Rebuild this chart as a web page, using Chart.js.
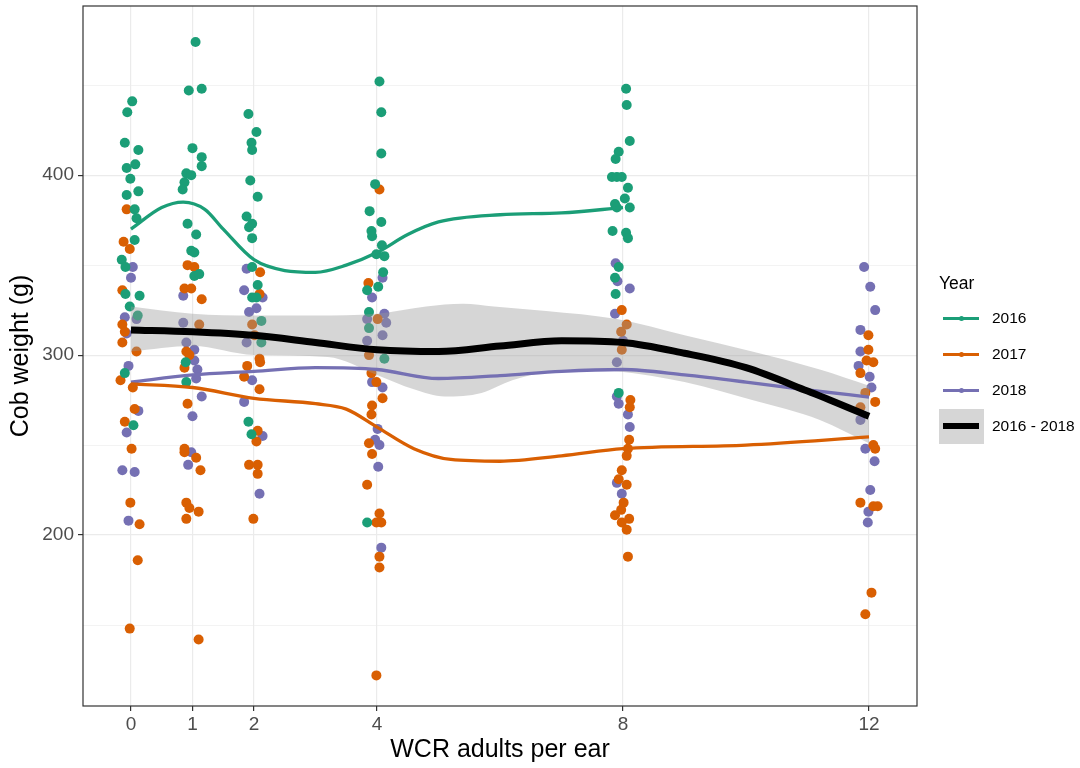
<!DOCTYPE html>
<html><head><meta charset="utf-8">
<script src="https://cdn.jsdelivr.net/npm/chart.js@4/dist/chart.umd.min.js"></script>
<style>
html,body{margin:0;padding:0;background:#fff;}
#wrap{position:relative;width:1080px;height:768px;overflow:hidden;}
#c{position:absolute;left:0;top:0;}
#legend{position:absolute;left:939px;top:271px;font-family:"Liberation Sans",Arial,sans-serif;color:#000;}
#legend .ttl{font-size:17.5px;height:30px;line-height:24px;}
#legend .row{position:relative;height:36px;width:140px;}
#legend .key{position:absolute;left:0;top:0;width:45px;height:35px;}
#legend .ln{position:absolute;left:4px;width:36px;top:16px;height:3px;}
#legend .dot{position:absolute;left:20px;top:15px;width:5px;height:5px;border-radius:50%;}
#legend .lab{position:absolute;left:53px;top:8px;font-size:15.5px;}
</style></head>
<body><div id="wrap"><canvas id="c" width="1080" height="768"></canvas><div id="legend"></div></div>
<script>
// ---- data ----
const xBreaks = [0, 1, 2, 4, 8, 12];
const yMajor = [200, 300, 400];
const yMinor = [150, 250, 350, 450];
const years = ['2016', '2017', '2018'];
const combinedLabel = '2016 - 2018';

const pts2016 = [
 [0.02,441],[-0.06,435],[-0.10,418],[0.12,414],[-0.07,404],[0.07,406],[-0.01,398],[-0.07,389],[0.12,391],[0.06,381],[0.09,376],[0.06,364],[-0.15,353],[-0.09,349],[-0.09,334],[0.14,333],[-0.02,327],[0.11,322],[-0.10,290],[0.04,261],
 [1.05,474],[0.94,447],[1.15,448],[1.00,415],[1.15,410],[1.15,405],[0.90,401],[0.98,400],[0.87,396],[0.84,392],[0.92,373],[1.06,367],[0.98,358],[1.03,357],[1.03,344],[1.11,345],[0.89,296],[0.90,285],
 [1.91,434],[2.04,424],[1.96,418],[1.97,414],[1.94,397],[2.06,388],[1.88,377],[1.97,373],[1.92,371],[1.97,365],[1.97,349],[2.06,339],[2.04,332],[1.97,332],[2.12,319],[2.12,307],[1.91,263],[1.96,256],
 [4.04,452],[4.07,435],[4.07,412],[3.97,395],[3.88,380],[4.07,374],[3.91,369],[3.92,366],[4.08,361],[3.99,356],[4.12,355],[4.10,346],[4.02,338],[3.84,336],[3.87,324],[3.87,315],[4.12,298],[3.84,207],
 [8.05,448],[8.06,439],[8.11,419],[7.93,413],[7.88,409],[7.82,399],[7.90,399],[7.98,399],[8.08,393],[8.03,387],[7.87,384],[7.90,382],[8.11,382],[7.83,369],[8.05,368],[8.08,365],[7.93,349],[7.87,343],[7.88,334],[7.93,279]
];
const pts2017 = [
 [-0.07,381],[-0.12,363],[-0.02,359],[-0.14,336],[-0.14,317],[-0.10,313],[-0.14,307],[0.09,302],[-0.17,286],[0.03,282],[0.06,270],[-0.10,263],[0.01,248],[-0.01,218],[0.14,206],[0.11,186],[-0.02,148],
 [0.92,350],[1.03,349],[0.87,337],[0.98,337],[1.15,331],[1.11,317],[0.90,302],[0.95,300],[0.87,293],[0.92,273],[0.87,248],[0.87,246],[1.06,243],[1.13,236],[0.90,218],[0.95,215],[1.10,213],[0.90,209],[1.10,142],
 [2.10,346],[2.09,334],[1.97,317],[2.01,311],[2.09,298],[1.89,294],[2.10,296],[1.84,288],[2.09,281],[2.06,258],[2.04,252],[1.92,239],[2.06,239],[2.06,234],[1.99,209],
 [4.04,392],[3.86,340],[4.01,320],[3.87,300],[3.91,290],[3.99,285],[4.09,276],[3.92,272],[3.91,267],[3.87,251],[3.92,245],[3.84,228],[4.04,212],[4.07,207],[3.99,207],[4.04,188],[4.04,182],[3.99,122],
 [7.98,325],[8.06,317],[7.97,313],[7.98,303],[8.12,275],[8.11,271],[8.10,253],[8.08,248],[8.06,244],[7.98,236],[7.93,231],[8.06,228],[8.01,218],[7.97,214],[7.87,211],[8.10,209],[7.98,207],[8.06,203],[8.08,188],
 [11.99,311],[11.99,303],[11.96,297],[12.07,296],[11.86,290],[11.94,279],[12.10,274],[11.86,271],[12.07,250],[12.10,248],[11.86,218],[12.07,216],[12.14,216],[12.04,168],[11.94,156]
];
const pts2018 = [
 [0.03,349],[0.00,343],[-0.10,321],[0.09,320],[-0.07,312],[-0.04,294],[0.12,269],[-0.07,257],[-0.14,236],[0.06,235],[-0.04,208],
 [0.85,333],[0.85,318],[0.90,307],[1.03,303],[1.03,297],[1.08,292],[1.06,287],[1.15,277],[1.00,266],[0.98,246],[0.93,239],
 [1.88,348],[1.84,336],[2.14,332],[2.04,326],[1.92,324],[1.88,307],[1.97,286],[1.84,274],[2.14,255],[2.09,223],
 [4.09,343],[3.92,332],[4.12,323],[3.84,320],[4.15,318],[4.09,311],[3.84,308],[3.92,285],[4.09,282],[4.01,259],[3.97,253],[4.04,250],[4.02,238],[4.07,193],
 [7.88,351],[7.91,341],[8.11,337],[7.87,323],[8.00,308],[7.90,296],[7.90,277],[7.93,273],[8.08,267],[8.11,260],[7.90,229],[7.98,223],
 [11.92,349],[12.02,338],[12.10,325],[11.86,314],[11.86,302],[11.83,294],[12.01,288],[12.04,282],[11.86,264],[11.94,248],[12.09,241],[12.02,225],[11.99,213],[11.98,207]
];

// smooth curves
const fit2016 = [[0,370],[0.5,382],[0.85,385],[1.2,381],[1.5,370],[2,353],[2.5,347],[3,346],[3.5,350],[4,357],[4.5,367],[5,374],[6,378],[7,379],[8,382]];
const fit2017 = [[0,284],[1,282],[2,276],[3,273],[3.5,270],[4,260],[4.6,248],[5.2,242],[6,241],[7,244],[8,248],[10,250],[12,254.5]];
const fit2018 = [[0,285],[1,289],[2,291],[3,293],[4,292],[5,287],[6,288.6],[7,291],[8,292],[9,289],[10,285],[11,280.6],[12,276.7]];
const fitAll  = [[0,314],[1,313],[2,311],[3,307],[4,303],[5,302],[6,305],[7,308],[8,307],[9,301],[10,293],[11,280],[12,266]];
const bandUpper = [[0,327],[1,323],[2,322],[3,322],[4,323],[4.8,327],[5.4,328.5],[5.9,327],[6.75,324.5],[7.9,320],[9,311],[10.1,302],[11.2,292],[12,283]];
const bandLower = [[0,302],[1,305],[2,300],[3.2,299],[4,289],[4.6,281],[5.1,277],[5.7,279],[6.2,286],[6.75,290.6],[7.3,292],[7.9,291],[9,285],[10.1,275],[11.2,264],[12,251]];

// ---- styling ----
const colors = {'2016':'#1B9E77','2017':'#D95F02','2018':'#7570B3'};
const FONT = '"Liberation Sans", Arial, sans-serif';
const toXY = a => a.map(([x,y]) => ({x, y}));

const pointSet = (yr, pts) => ({
  type:'scatter', label: yr + ' pts', data: toXY(pts),
  backgroundColor: colors[yr], borderWidth: 0, pointRadius: 5, pointHoverRadius: 5, order: 3
});
const lineSet = (label, pts, color, w, order) => ({
  type:'line', label, data: toXY(pts), borderColor: color, borderWidth: w,
  pointRadius: 0, fill: false, cubicInterpolationMode: 'monotone', order
});

const borderPlugin = {
  id:'panelBorder',
  afterDraw(chart){
    const {ctx, chartArea:a} = chart;
    ctx.save(); ctx.strokeStyle = '#333333'; ctx.lineWidth = 1.2;
    ctx.strokeRect(a.left, a.top, a.right - a.left, a.bottom - a.top);
    ctx.restore();
  }
};

new Chart(document.getElementById('c'), {
  data: {
    datasets: [
      lineSet(combinedLabel, fitAll, '#000000', 7, 0),
      lineSet('2016', fit2016, colors['2016'], 3.3, 1),
      lineSet('2017', fit2017, colors['2017'], 3.3, 1),
      lineSet('2018', fit2018, colors['2018'], 3.3, 1),
      Object.assign(lineSet('band upper', bandUpper, 'rgba(0,0,0,0)', 0, 2), {fill:'+1', backgroundColor:'rgba(153,153,153,0.4)'}),
      lineSet('band lower', bandLower, 'rgba(0,0,0,0)', 0, 2),
      pointSet('2016', pts2016),
      pointSet('2017', pts2017),
      pointSet('2018', pts2018)
    ]
  },
  options: {
    responsive:false, animation:false, devicePixelRatio:1,
    layout:{padding:{top:6, right:163, bottom:0, left:0}},
    plugins:{legend:{display:false}, tooltip:{enabled:false}},
    scales:{
      x:{
        type:'linear', min:-0.78, max:12.78,
        afterBuildTicks: s => { s.ticks = xBreaks.map(v => ({value:v})); },
        afterFit: s => { s.height = 62; s.paddingLeft = 0; s.paddingRight = 0; },
        ticks:{autoSkip:false, maxRotation:0, color:'#4D4D4D', padding:2, font:{family:FONT, size:19}, callback: v => String(v)},
        grid:{color:'#EBEBEB', lineWidth:1.2, tickColor:'#333333', tickLength:5, tickWidth:1.2},
        border:{display:false},
        title:{display:true, text:'WCR adults per ear', color:'#000', font:{family:FONT, size:25}, padding:{top:0, bottom:3}}
      },
      y:{
        type:'linear', min:105, max:494,
        afterBuildTicks: s => { s.ticks = [...yMinor, ...yMajor].sort((a,b)=>a-b).map(v => ({value:v})); },
        afterFit: s => { s.width = 83; s.paddingTop = 0; s.paddingBottom = 0; },
        ticks:{autoSkip:false, color:'#4D4D4D', padding:4, font:{family:FONT, size:19}, callback: v => yMajor.includes(v) ? String(v) : ''},
        grid:{
          color:'#EBEBEB',
          lineWidth: c => (c.tick && yMajor.includes(c.tick.value)) ? 1.2 : 0.6,
          tickColor: c => (c.tick && yMajor.includes(c.tick.value)) ? '#333333' : 'rgba(0,0,0,0)',
          tickLength:5, tickWidth:1.2
        },
        border:{display:false},
        title:{display:true, text:'Cob weight (g)', color:'#000', font:{family:FONT, size:25}, padding:{top:6, bottom:0}}
      }
    }
  },
  plugins:[borderPlugin]
});

// ---- legend (HTML text) ----
const lg = document.getElementById('legend');
let html = '<div class="ttl">Year</div>';
years.forEach(y => {
  html += '<div class="row"><div class="key"><div class="ln" style="background:'+colors[y]+'"></div><div class="dot" style="background:'+colors[y]+'"></div></div><div class="lab">'+y+'</div></div>';
});
html += '<div class="row"><div class="key" style="background:#D6D6D6"><div class="ln" style="background:#000;height:6px;top:14px"></div></div><div class="lab">'+combinedLabel+'</div></div>';
lg.innerHTML = html;
</script>
</body></html>
